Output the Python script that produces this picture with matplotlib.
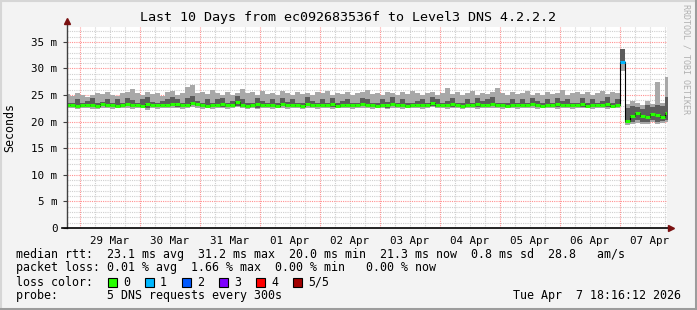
import numpy as np
import matplotlib
matplotlib.use("Agg")
import matplotlib.pyplot as plt
from matplotlib.patches import Rectangle
from matplotlib.lines import Line2D

# time axis: hours after 29 Mar 00:00, 2 hour bins
t_first = -6.0
bin_hours = 2.0

# median rtt (ms) per bin
median = [23.1,23.1,23.0,23.2,23.2,23.1,23.0,23.3,23.1,23.1,
          23.0,23.2,23.4,23.1,23.1,23.0,23.3,23.2,23.1,23.1,
          23.2,23.4,23.3,23.1,23.1,23.6,23.3,23.1,23.0,23.2,
          23.1,23.3,23.1,23.1,23.7,23.2,23.0,23.1,23.3,23.1,
          23.2,23.1,23.0,23.4,23.1,23.2,23.1,23.0,23.3,23.1,
          23.1,23.2,23.1,23.3,23.0,23.1,23.2,23.1,23.1,23.4,
          23.2,23.1,23.0,23.2,23.1,23.3,23.1,23.2,23.0,23.1,
          23.1,23.2,23.1,23.5,23.2,23.1,23.1,23.3,23.1,23.0,
          23.2,23.1,23.3,23.1,23.2,23.4,23.1,23.1,23.0,23.2,
          23.1,23.2,23.1,23.3,23.1,23.0,23.2,23.1,23.4,23.1,
          23.2,23.1,23.1,23.3,23.0,23.2,23.1,23.1,23.3,23.0,23.2,
          31.3,20.2,21.0,21.7,21.1,20.8,21.5,21.2,20.9,21.6]

# bottom of the light smoke
smoke_lo = [22.5,22.6,22.4,22.5,22.6,22.4,22.3,22.6,22.5,22.4,
            22.6,22.5,22.6,22.4,22.5,22.6,22.2,22.5,22.4,22.6,
            22.5,22.6,22.6,22.4,22.5,22.7,22.6,22.4,22.5,22.3,
            22.6,22.5,22.4,22.6,22.7,22.5,22.4,22.6,22.3,22.5,
            22.6,22.4,22.5,22.6,22.4,22.6,22.5,22.4,22.6,22.5,
            22.4,22.6,22.5,22.4,22.6,22.5,22.6,22.4,22.5,22.6,
            22.5,22.4,22.6,22.5,22.3,22.6,22.5,22.4,22.6,22.5,
            22.6,22.4,22.5,22.7,22.5,22.6,22.4,22.5,22.6,22.4,
            22.5,22.6,22.4,22.5,22.6,22.6,22.5,22.4,22.6,22.5,
            22.4,22.6,22.5,22.6,22.4,22.5,22.6,22.5,22.4,22.6,
            22.5,22.4,22.6,22.5,22.6,22.4,22.5,22.6,22.4,22.5,22.6,
            29.6,19.4,19.6,19.8,19.5,19.6,19.9,19.5,19.7,20.0]

# bottom of the dark smoke
dark_lo = [22.8,22.9,22.7,23.0,22.9,22.8,22.7,22.9,22.8,22.9,
           22.7,22.9,23.0,22.8,22.9,22.7,22.6,22.9,22.8,22.9,
           22.9,23.0,22.8,22.8,22.9,23.1,22.9,22.8,22.7,22.8,
           22.9,22.8,22.8,22.9,23.0,22.8,22.7,22.9,22.6,22.8,
           22.9,22.8,22.8,23.0,22.7,22.9,22.8,22.7,22.9,22.8,
           22.8,22.9,22.8,22.8,22.9,22.8,23.0,22.7,22.8,22.9,
           22.9,22.8,22.9,22.8,22.6,22.9,22.8,22.8,22.9,22.8,
           22.9,22.7,22.8,23.0,22.8,22.9,22.8,22.8,22.9,22.7,
           22.8,22.9,22.8,22.8,23.0,22.9,22.8,22.7,22.9,22.8,
           22.7,22.9,22.8,23.0,22.7,22.8,22.9,22.8,22.8,22.9,
           22.8,22.7,22.9,22.8,23.0,22.7,22.8,22.9,22.7,22.8,22.9,
           31.0,19.8,20.0,20.3,19.9,20.0,20.3,19.9,20.1,20.4]

# top of the dark smoke
smoke_mid = [23.6,23.5,24.2,23.6,23.9,24.4,23.5,23.7,24.2,23.6,
             24.3,23.6,24.5,24.1,23.5,24.2,24.6,23.7,23.5,23.8,
             24.3,24.6,24.2,23.6,24.4,24.8,23.8,23.5,24.3,23.6,
             24.2,24.5,23.5,23.8,24.9,24.2,23.6,23.5,24.4,23.8,
             23.6,24.3,23.5,24.5,23.7,24.2,23.5,23.6,24.6,23.8,
             23.5,24.2,23.6,24.4,23.5,23.8,24.3,23.6,23.5,24.5,
             24.2,23.6,23.5,24.3,23.7,24.6,23.5,24.2,23.6,23.5,
             23.8,24.3,23.6,24.7,24.2,23.5,23.8,24.4,23.6,23.5,
             24.2,23.6,24.5,23.8,24.3,24.6,23.6,23.5,23.5,24.2,
             23.6,24.3,23.5,24.4,23.8,23.5,24.2,23.6,24.5,23.8,
             24.3,23.6,23.5,24.4,23.5,24.2,23.6,23.8,24.6,23.5,24.2,
             33.7,22.6,23.0,22.8,22.4,23.1,22.7,23.2,22.9,24.6]

# top of the light smoke
smoke_hi = [25.2,24.9,25.3,25.1,24.7,25.0,25.4,25.2,25.6,25.1,
            24.8,25.3,25.5,26.1,25.4,25.0,25.6,25.2,25.3,24.9,
            25.5,25.8,25.1,25.3,26.6,26.8,25.4,25.6,25.2,25.9,
            25.3,25.1,25.6,25.0,25.4,26.2,25.3,25.5,25.1,25.7,
            25.2,25.4,25.0,25.8,25.3,25.1,25.6,25.2,25.4,25.0,
            25.5,25.3,25.7,25.1,25.4,25.2,25.6,25.0,25.3,25.5,
            25.9,25.2,25.4,25.1,25.6,25.3,25.0,25.5,25.2,25.8,
            25.4,25.1,25.3,25.6,25.0,25.4,26.3,25.2,25.5,25.1,
            25.3,25.7,25.0,25.4,25.2,25.6,26.4,25.3,25.1,25.5,
            25.2,25.4,25.8,25.1,25.3,25.0,25.6,25.2,25.4,25.9,
            25.1,25.3,25.5,25.2,25.6,25.0,25.4,25.7,25.2,25.5,25.3,
            33.7,23.4,23.8,23.5,23.1,23.9,23.3,27.5,23.6,28.4]

# lost pings per bin (out of 5)
loss = [0] * 111 + [1] + [0] * 9

day_labels = ["29 Mar", "30 Mar", "31 Mar", "01 Apr", "02 Apr",
              "03 Apr", "04 Apr", "05 Apr", "06 Apr", "07 Apr"]
y_ticks = [0, 5, 10, 15, 20, 25, 30, 35]

loss_colors = ["#26ff00", "#00b8ff", "#0059ff", "#7e00ff", "#ff0000", "#a10000"]
loss_names = ["0", "1", "2", "3", "4", "5/5"]

stats_line1 = "median rtt:  23.1 ms avg  31.2 ms max  20.0 ms min  21.3 ms now  0.8 ms sd  28.8   am/s"
stats_line2 = "packet loss: 0.01 % avg  1.66 % max  0.00 % min   0.00 % now"
probe_line = "probe:       5 DNS requests every 300s"
stamp = "Tue Apr  7 18:16:12 2026"
title = "Last 10 Days from ec092683536f to Level3 DNS 4.2.2.2"

W, H = 697, 310
mono = "DejaVu Sans Mono"

fig = plt.figure(figsize=(W / 100, H / 100), dpi=100)
fig.patch.set_facecolor("#f3f3f3")

def fx(px):
    return px / W

def fy(py):
    return 1 - py / H

ax = fig.add_axes([fx(67), fy(228), fx(600), 201 / H])
ax.set_facecolor("white")
ax.set_xlim(-5.2, 234.8)
ax.set_ylim(0, 37.8)

n = len(median)
edges = t_first + bin_hours * np.arange(n + 1)
lo = np.array(smoke_lo + [smoke_lo[-1]])
dlo = np.array(dark_lo + [dark_lo[-1]])
mid = np.array(smoke_mid + [smoke_mid[-1]])
hi = np.array(smoke_hi + [smoke_hi[-1]])

# grid
for h in np.arange(-6, 235, 6):
    if h % 24 != 0:
        ax.axvline(h, color="#cfcfcf", lw=0.8, ls=(0, (1, 1)), zorder=0)
for v in range(1, 38):
    if v % 5 != 0:
        ax.axhline(v, color="#cfcfcf", lw=0.8, ls=(0, (1, 1)), zorder=0)
for h in range(0, 235, 24):
    ax.axvline(h, color="#ff9090", lw=0.8, ls=(0, (1, 1)), zorder=0.5)
for v in range(5, 38, 5):
    ax.axhline(v, color="#ff9090", lw=0.8, ls=(0, (1, 1)), zorder=0.5)

# smoke
ax.fill_between(edges, lo, hi, step="post", color="#a8a8a8", lw=0, zorder=2)
ax.fill_between(edges, dlo, mid, step="post", color="#5c5c5c", lw=0, zorder=2)

# median line
med = np.array(median + [median[-1]])
ax.plot(edges, med, drawstyle="steps-post", color="black", lw=0.8, zorder=3)
for i in range(n):
    ax.hlines(median[i], edges[i], edges[i + 1], color=loss_colors[loss[i]],
              lw=2.2, zorder=4)

# axes & arrows
for s in ax.spines.values():
    s.set_visible(False)
ax.plot([0, 0], [0, 1.02], transform=ax.transAxes, color="#404040", lw=1,
        clip_on=False, zorder=5)
ax.plot([-0.008, 1.002], [0, 0], transform=ax.transAxes, color="black", lw=1.2,
        clip_on=False, zorder=5)
ax.plot([0], [1.03], transform=ax.transAxes, marker="^", ms=5, color="#7a1010",
        clip_on=False, zorder=6)
ax.plot([1.006], [0], transform=ax.transAxes, marker=">", ms=5, color="#7a1010",
        clip_on=False, zorder=6)

ax.set_yticks(y_ticks, ["0"] + [f"{v} m" for v in y_ticks[1:]])
ax.set_xticks(12 + 24 * np.arange(len(day_labels)), day_labels)
ax.tick_params(axis="y", length=3, width=0.8, color="#404040", pad=4,
               labelsize=7.8)
ax.tick_params(axis="x", length=0, pad=6, labelsize=7.8)
for lab in ax.get_xticklabels() + ax.get_yticklabels():
    lab.set_fontfamily(mono)

# texts
fig.text(fx(348.5), fy(18), title, ha="center", va="center", family=mono, size=9.6)
fig.text(fx(10), fy(127), "Seconds", ha="center", va="center", rotation=90,
         family=mono, size=8.4)
fig.text(fx(686), fy(4), "RRDTOOL / TOBI OETIKER", ha="center", va="top",
         rotation=-90, family=mono, size=6, color="#b0b0b0")

fig.text(fx(16), fy(254.5), stats_line1, ha="left", va="center", family=mono, size=8.4)
fig.text(fx(16), fy(268), stats_line2, ha="left", va="center", family=mono, size=8.4)
fig.text(fx(16), fy(282), "loss color:", ha="left", va="center", family=mono, size=8.4)
for i, (c, name) in enumerate(zip(loss_colors, loss_names)):
    x0 = 108 + 37 * i
    fig.add_artist(Rectangle((fx(x0), fy(287)), fx(9), 9 / H, facecolor=c,
                             edgecolor="black", lw=0.8, transform=fig.transFigure))
    fig.text(fx(x0 + 15), fy(282), name, ha="left", va="center", family=mono, size=8.4)
fig.text(fx(16), fy(296), probe_line, ha="left", va="center", family=mono, size=8.4)
fig.text(fx(681), fy(296), stamp, ha="right", va="center", family=mono, size=8.4)

# image border
fig.add_artist(Line2D([0, 1], [fy(1), fy(1)], color="#d6d6d6", lw=1.5, transform=fig.transFigure))
fig.add_artist(Line2D([fx(1), fx(1)], [0, 1], color="#d6d6d6", lw=1.5, transform=fig.transFigure))
fig.add_artist(Line2D([0, 1], [fy(308.5), fy(308.5)], color="#9c9c9c", lw=2.2, transform=fig.transFigure))
fig.add_artist(Line2D([fx(695.5), fx(695.5)], [0, 1], color="#9c9c9c", lw=2.2, transform=fig.transFigure))

fig.savefig("out.png", dpi=100, facecolor=fig.get_facecolor())
